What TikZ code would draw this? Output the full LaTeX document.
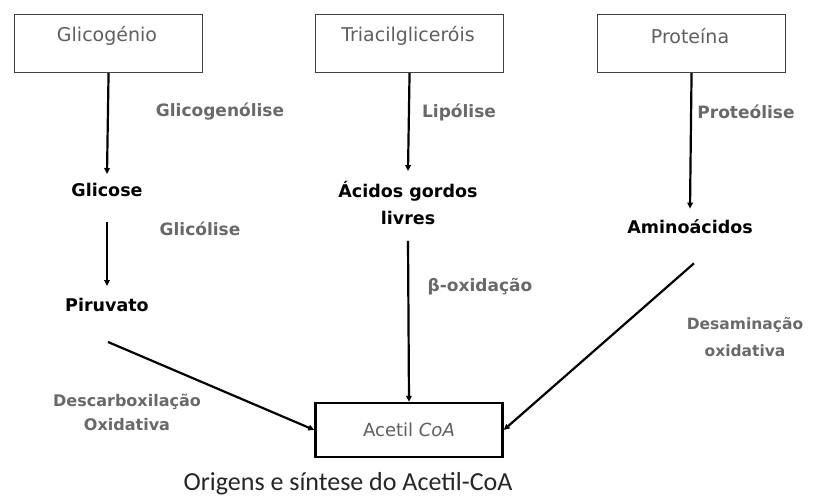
\documentclass[tikz,border=0pt]{standalone}
\usepackage{fontspec}
\setmainfont{DejaVu Sans}
\newfontfamily\capfont{Carlito}
\usetikzlibrary{arrows.meta,calc}
\definecolor{boxtxt}{RGB}{95,95,95}
\definecolor{lbl}{RGB}{105,105,105}
\tikzset{
  srcbox/.style={draw=black!75,line width=1.1pt,minimum width=188pt,minimum height=58pt,inner sep=0pt,anchor=north west},
  boxlab/.style={text=boxtxt,font=\fontsize{19}{22}\selectfont,inner sep=0pt},
  mid/.style={font=\bfseries\fontsize{17.5}{27}\selectfont,text=black,align=center,inner sep=0pt},
  lab/.style={font=\bfseries\fontsize{17}{27}\selectfont,text=lbl,align=center,inner sep=0pt},
  arr/.style={line width=2.2pt,-{Triangle[length=6pt,width=5.5pt]}},
}
\begin{document}
\begin{tikzpicture}[x=1pt,y=-1pt]
\useasboundingbox (0,0) rectangle (816,500);
\fill[white] (0,0) rectangle (816,500);
% source boxes
\node[srcbox] (glico) at (14,14) {};
\node[boxlab] (glicot) at (107,36) {Glicogénio};
\node[srcbox] (tri) at (315,14) {};
\node[boxlab] (trit) at (408,36) {Triacilgliceróis};
\node[srcbox] (prot) at (597,14) {};
\node[boxlab] (prott) at (690,36) {Proteína};
% middle products
\node[mid] (glicose) at (107,190) {Glicose};
\node[mid] (piruvato) at (107,305) {Piruvato};
\node[mid] (acidos) at (408,203) {Ácidos gordos\\livres};
\node[mid] (amino) at (690,227) {Aminoácidos};
% target
\node[draw=black,line width=2.4pt,minimum width=187pt,minimum height=54pt,inner sep=0pt,text=boxtxt,font=\fontsize{18}{20}\selectfont] (acetil) at (409,430) {Acetil \textit{CoA}};
% arrows
\draw[arr] (glico.south) -- ($(glicose.north)+(0,-9)$);
\draw[arr] ($(glicose.south)+(0,25)$) -- ($(piruvato.north)+(0,-12)$);
\draw[arr] ($(piruvato.south)+(1,30)$) -- (acetil.west);
\draw[arr] (tri.south) -- ($(acidos.north)+(0,-10)$);
\draw[arr] ($(acidos.south)+(0,16)$) -- (acetil.north);
\draw[arr] (prot.south) -- ($(amino.north)+(0,-11)$);
\draw[arr] ($(amino.south)+(4,29)$) -- (acetil.east);
% labels
\node[lab] (l1) at (220,112) {Glicogenólise};
\node[lab] (l2) at (200,229) {Glicólise};
\node[lab] (l3) at (459,112) {Lipólise};
\node[lab] (l4) at (746,112) {Proteólise};
\node[lab] (l5) at (480,287) {β-oxidação};
\node[lab,font=\bfseries\fontsize{16}{24}\selectfont] (l6) at (127,412) {Descarboxilação\\Oxidativa};
\node[lab,font=\bfseries\fontsize{15.5}{27}\selectfont] (l7) at (745,337) {Desaminação\\oxidativa};
% caption
\node[font=\capfont\fontsize{26}{30}\selectfont,text=black!85] (cap) at (348,484) {Origens e síntese do Acetil-CoA};
\end{tikzpicture}
\end{document}
